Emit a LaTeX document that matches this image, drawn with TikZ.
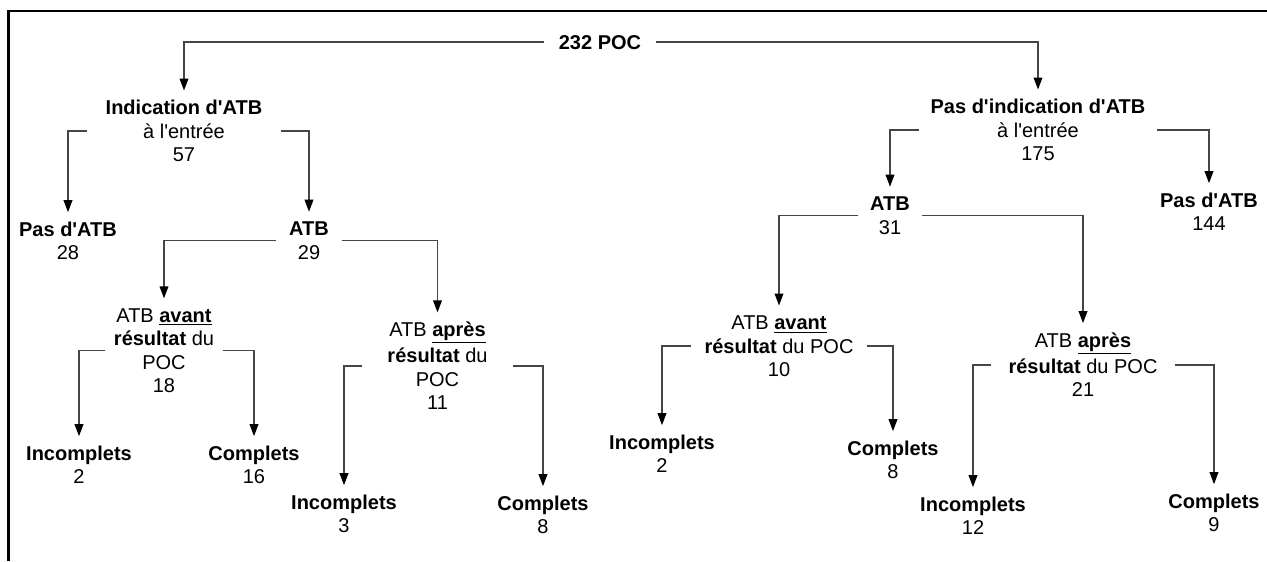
\documentclass[tikz,border=0pt]{standalone}
\usepackage{fontspec}
\newfontfamily\arial{Liberation Sans}
\usetikzlibrary{arrows.meta}
\definecolor{linec}{RGB}{70,70,70}
\newcommand{\ls}{\rule[-2.8pt]{0pt}{16.3pt}}
\begin{document}
\begin{tikzpicture}[x=0.75pt,y=-0.75pt,
  box/.style={align=center,inner xsep=0pt,inner ysep=4.5pt,
    font=\arial\fontsize{15}{17.5}\selectfont},
  arr/.style={draw=linec,line width=1.1pt,
    -{Triangle[width=6.5pt,length=9pt,color=black]}},
  frame/.style={draw=black,line width=2pt}]
\useasboundingbox (0,0) rectangle (1267,561);
\draw[frame] (8.5,561) -- (8.5,11) -- (1267,11);

% nodes
\node[box,minimum width=84pt] (root) at (600,42) {\ls\textbf{232 POC}};
\node[box,minimum width=144.75pt] (ind) at (184,131)
  {\ls\textbf{Indication d'ATB}\\\ls à l'entrée\\\ls 57};
\node[box,minimum width=177.75pt] (pasind) at (1038,130)
  {\ls\textbf{Pas d'indication d'ATB}\\\ls à l'entrée\\\ls 175};
\node[box] (pasatbA) at (68,241) {\ls\textbf{Pas d'ATB}\\\ls 28};
\node[box,minimum width=49.5pt] (atbA) at (309,240.5) {\ls\textbf{ATB}\\\ls 29};
\node[box,minimum width=87.75pt] (avantA) at (164,350.5)
  {\ls ATB \underline{\textbf{avant}}\\\ls\textbf{résultat} du\\\ls POC\\\ls 18};
\node[box,minimum width=112.5pt] (apresA) at (437.5,366)
  {\ls ATB \underline{\textbf{après}}\\\ls\textbf{résultat} du\\\ls POC\\\ls 11};
\node[box] (incA) at (79,465) {\ls\textbf{Incomplets}\\\ls 2};
\node[box] (compA) at (254,465) {\ls\textbf{Complets}\\\ls 16};
\node[box] (incB) at (344,514) {\ls\textbf{Incomplets}\\\ls 3};
\node[box] (compB) at (543,515) {\ls\textbf{Complets}\\\ls 8};

\node[box] (pasatbB) at (1209,212) {\ls\textbf{Pas d'ATB}\\\ls 144};
\node[box,minimum width=48pt] (atbB) at (890,215.5) {\ls\textbf{ATB}\\\ls 31};
\node[box,minimum width=131.25pt] (avantB) at (779,346)
  {\ls ATB \underline{\textbf{avant}}\\\ls\textbf{résultat} du POC\\\ls 10};
\node[box,minimum width=137.25pt] (apresB) at (1083,365)
  {\ls ATB \underline{\textbf{après}}\\\ls\textbf{résultat} du POC\\\ls 21};
\node[box] (incC) at (662,454) {\ls\textbf{Incomplets}\\\ls 2};
\node[box] (compC) at (893,460) {\ls\textbf{Complets}\\\ls 8};
\node[box] (incD) at (973,516) {\ls\textbf{Incomplets}\\\ls 12};
\node[box] (compD) at (1214,513) {\ls\textbf{Complets}\\\ls 9};

% connectors
\draw[arr] (root.west) -| (ind.north);
\draw[arr] (root.east) -| (pasind.north);
\draw[arr] (ind.west) -| (pasatbA.north);
\draw[arr] (ind.east) -| (atbA.north);
\draw[arr] (atbA.west) -| (avantA.north);
\draw[arr] (atbA.east) -| (apresA.north);
\draw[arr] (avantA.west) -| (incA.north);
\draw[arr] (avantA.east) -| (compA.north);
\draw[arr] (apresA.west) -| (incB.north);
\draw[arr] (apresA.east) -| (compB.north);
\draw[arr] (pasind.west) -| (atbB.north);
\draw[arr] (pasind.east) -| (pasatbB.north);
\draw[arr] (atbB.west) -| (avantB.north);
\draw[arr] (atbB.east) -| (apresB.north);
\draw[arr] (avantB.west) -| (incC.north);
\draw[arr] (avantB.east) -| (compC.north);
\draw[arr] (apresB.west) -| (incD.north);
\draw[arr] (apresB.east) -| (compD.north);
\end{tikzpicture}
\end{document}
